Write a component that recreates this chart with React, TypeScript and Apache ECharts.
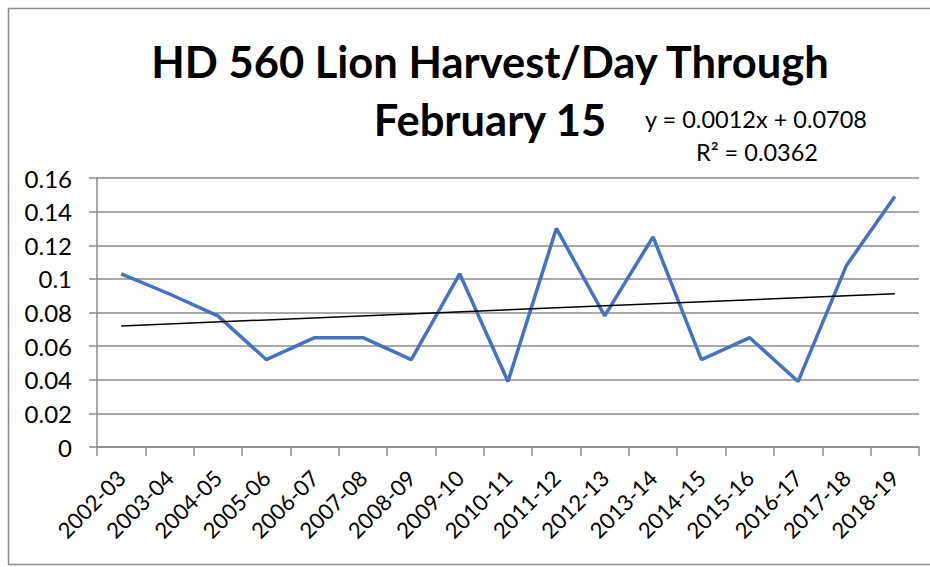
import React, { useEffect, useRef } from "react";
import * as echarts from "echarts";

const categories = [
  "2002-03", "2003-04", "2004-05", "2005-06", "2006-07", "2007-08", "2008-09",
  "2009-10", "2010-11", "2011-12", "2012-13", "2013-14", "2014-15", "2015-16",
  "2016-17", "2017-18", "2018-19",
];
const harvestPerDay = [
  0.103, 0.091, 0.078, 0.052, 0.065, 0.065, 0.052, 0.103, 0.039, 0.130,
  0.078, 0.125, 0.052, 0.065, 0.039, 0.108, 0.149,
];
const trendSlope = 0.0012;
const trendIntercept = 0.0708;
const trendEquation = "y = 0.0012x + 0.0708";
const trendR2 = "R² = 0.0362";
const titleText = "HD 560 Lion Harvest/Day Through\nFebruary 15";

const FONT = "Lato, 'Open Sans', sans-serif";

export default function App() {
  const ref = useRef<HTMLDivElement>(null);
  useEffect(() => {
    if (!ref.current) return;
    const chart = echarts.init(ref.current, null, { renderer: "svg" });
    const n = categories.length;
    const trendData = [
      [categories[0], trendIntercept + trendSlope * 1],
      [categories[n - 1], trendIntercept + trendSlope * n],
    ];
    chart.setOption({
      animation: false,
      backgroundColor: "#ffffff",
      title: {
        text: titleText,
        left: 485,
        top: 27,
        textAlign: "center",
        textStyle: {
          fontFamily: FONT,
          fontWeight: "bold",
          fontSize: 43.5,
          lineHeight: 58,
          color: "#000",
        },
      },
      graphic: [
        {
          type: "rect",
          shape: { x: 8.5, y: 8.5, width: 1000, height: 556 },
          style: { fill: "none", stroke: "#8c8c8c", lineWidth: 1.5 },
          silent: true,
          z: -1,
        },
        {
          type: "text",
          x: 756,
          y: 119,
          style: {
            text: trendEquation,
            fontFamily: FONT,
            fontSize: 23.5,
            fill: "#000",
            align: "center",
            verticalAlign: "middle",
          },
        },
        {
          type: "text",
          x: 757,
          y: 152,
          style: {
            text: trendR2,
            fontFamily: FONT,
            fontSize: 23.5,
            fill: "#000",
            align: "center",
            verticalAlign: "middle",
          },
        },
      ],
      grid: { left: 97, right: 11, top: 178, bottom: 120, containLabel: false },
      xAxis: {
        type: "category",
        data: categories,
        boundaryGap: true,
        axisLine: { show: true, lineStyle: { color: "#8c8c8c", width: 1.5 } },
        axisTick: { show: true, length: 9, alignWithLabel: false, lineStyle: { color: "#8c8c8c", width: 1.5 } },
        axisLabel: {
          rotate: 45,
          interval: 0,
          margin: 27,
          fontFamily: FONT,
          fontSize: 22,
          color: "#000",
        },
        splitLine: { show: false },
      },
      yAxis: {
        type: "value",
        min: 0,
        max: 0.16,
        interval: 0.02,
        axisLine: { show: true, lineStyle: { color: "#8c8c8c", width: 1.5 } },
        axisTick: { show: true, length: 8, lineStyle: { color: "#8c8c8c", width: 1.5 } },
        axisLabel: {
          margin: 25,
          fontFamily: FONT,
          fontSize: 24,
          color: "#000",
          formatter: (v: number) => String(parseFloat(v.toFixed(2))),
        },
        splitLine: { show: true, lineStyle: { color: "#8c8c8c", width: 1.5 } },
      },
      series: [
        {
          type: "line",
          data: harvestPerDay,
          symbol: "none",
          lineStyle: { color: "#4472C4", width: 3.5 },
          z: 3,
        },
        {
          type: "line",
          data: trendData,
          symbol: "none",
          lineStyle: { color: "#000", width: 1.5 },
          z: 4,
        },
      ],
    });
    return () => chart.dispose();
  }, []);
  return (
    <div
      ref={ref}
      style={{ position: "absolute", left: 0, top: 0, width: 930, height: 567 }}
    />
  );
}
